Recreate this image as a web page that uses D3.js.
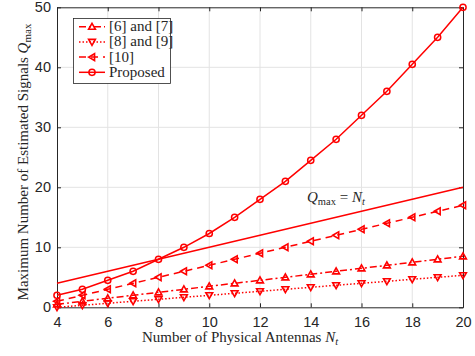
<!DOCTYPE html>
<html>
<head>
<meta charset="utf-8">
<script src="https://cdn.jsdelivr.net/npm/d3@7"></script>
<style>
body { margin:0; background:#fff; }
svg text { fill:#262626; }
.tick text { font-family:"Liberation Sans", Arial, sans-serif; font-size:14.5px; }
.lab { font-family:"Liberation Serif", "DejaVu Serif", serif; font-size:15px; }
</style>
</head>
<body>
<svg width="475" height="356"></svg>
<script>
// values
var nt = [4,5,6,7,8,9,10,11,12,13,14,15,16,17,18,19,20];
var ref67 = [0.5,1,1.5,2,2.5,3,3.5,4,4.5,5,5.5,6,6.5,7,7.5,8,8.5];
var ref89 = [0,0.33,0.67,1,1.33,1.67,2,2.33,2.67,3,3.33,3.67,4,4.33,4.67,5,5.33];
var ref10 = [1,2,3,4,5,6,7,8,9,10,11,12,13,14,15,16,17];
var proposed = [2,3,4.5,6,8,10,12.3,15,18,21,24.5,28,32,36,40.5,45,50];
var bound = [4,20]; // Qmax = Nt, at Nt=4 and Nt=20
var xTicks = [4,6,8,10,12,14,16,18,20];
var yTicks = [0,10,20,30,40,50];

var svg = d3.select("svg");
var L=57, R=463, T=7.3, B=307.3;
var x = d3.scaleLinear().domain([4,20]).range([L,R]);
var y = d3.scaleLinear().domain([0,50]).range([B,T]);
var red = "#ff0000";

// grid
svg.append("g").selectAll("line").data(xTicks.slice(1,-1)).enter().append("line")
  .attr("x1",d=>x(d)).attr("x2",d=>x(d)).attr("y1",T).attr("y2",B)
  .attr("stroke","#e3e3e3").attr("stroke-width",1);
svg.append("g").selectAll("line").data(yTicks.slice(1,-1)).enter().append("line")
  .attr("y1",d=>y(d)).attr("y2",d=>y(d)).attr("x1",L).attr("x2",R)
  .attr("stroke","#e3e3e3").attr("stroke-width",1);

// axes
function styleAx(g){ g.select(".domain").attr("stroke","#262626"); g.selectAll(".tick line").attr("stroke","#262626"); }
svg.append("g").attr("transform","translate(0,"+B+")")
  .call(d3.axisBottom(x).tickValues(xTicks).tickSizeInner(-4).tickSizeOuter(0).tickPadding(9))
  .call(styleAx).selectAll("text").attr("fill","#262626");
svg.append("g").attr("transform","translate(0,"+T+")")
  .call(d3.axisTop(x).tickValues(xTicks).tickSizeInner(-4).tickSizeOuter(0).tickFormat(""))
  .call(styleAx);
svg.append("g").attr("transform","translate("+L+",0)")
  .call(d3.axisLeft(y).tickValues(yTicks).tickSizeInner(-4).tickSizeOuter(0).tickPadding(6))
  .call(styleAx).selectAll("text").attr("fill","#262626");
svg.append("g").attr("transform","translate("+R+",0)")
  .call(d3.axisRight(y).tickValues(yTicks).tickSizeInner(-4).tickSizeOuter(0).tickFormat(""))
  .call(styleAx);

// series
var series = [
  {name:"[6] and [7]", vals:ref67, dash:"7,3,2,3", sym:"up"},
  {name:"[8] and [9]", vals:ref89, dash:"1.5,2", sym:"down"},
  {name:"[10]", vals:ref10, dash:"7,5", sym:"left"},
  {name:"Proposed", vals:proposed, dash:null, sym:"circle"}
];

function marker(g, sym, cx, cy){
  if(sym=="circle"){
    g.append("circle").attr("cx",cx).attr("cy",cy).attr("r",3.1)
      .attr("fill","none").attr("stroke",red).attr("stroke-width",1.5);
    return;
  }
  var s=3.4, pts;
  if(sym=="up") pts=[[0,-s],[s,s*0.75],[-s,s*0.75]];
  else if(sym=="down") pts=[[0,s],[s,-s*0.75],[-s,-s*0.75]];
  else pts=[[-s,0],[s*0.75,-s],[s*0.75,s]];
  g.append("polygon").attr("points",pts.map(p=>(cx+p[0])+","+(cy+p[1])).join(" "))
    .attr("fill","none").attr("stroke",red).attr("stroke-width",1.6).attr("stroke-linejoin","miter");
}

var line = d3.line().x((d,i)=>x(nt[i])).y(d=>y(d));
series.forEach(function(s){
  svg.append("path").attr("d",line(s.vals)).attr("fill","none").attr("stroke",red)
    .attr("stroke-width",1.5).attr("stroke-dasharray",s.dash);
  var g=svg.append("g");
  s.vals.forEach(function(v,i){ marker(g,s.sym,x(nt[i]),y(v)); });
});

// Qmax = Nt
svg.append("line").attr("x1",x(4)).attr("y1",y(bound[0])).attr("x2",x(20)).attr("y2",y(bound[1]))
  .attr("stroke",red).attr("stroke-width",1.5);
var q = svg.append("text").attr("class","lab").attr("x",307).attr("y",202);
q.append("tspan").attr("font-style","italic").text("Q");
q.append("tspan").attr("font-size","10.5px").attr("dy",3).text("max");
q.append("tspan").attr("dy",-3).text(" = ");
q.append("tspan").attr("font-style","italic").text("N");
q.append("tspan").attr("font-style","italic").attr("font-size","10.5px").attr("dy",3).text("t");

// legend
var lg = svg.append("g");
lg.append("rect").attr("x",73.5).attr("y",18.5).attr("width",97).attr("height",65)
  .attr("fill","#fff").attr("stroke","#262626").attr("stroke-width",0.8);
series.forEach(function(s,i){
  var yy = 26.7 + i*15.2;
  lg.append("line").attr("x1",79).attr("x2",105).attr("y1",yy).attr("y2",yy)
    .attr("stroke",red).attr("stroke-width",1.5).attr("stroke-dasharray",s.dash);
  marker(lg,s.sym,92,yy);
  lg.append("text").attr("class","lab").attr("font-size","13.5px").attr("x",109).attr("y",yy+4.5).text(s.name);
});

// axis labels
var xl = svg.append("text").attr("class","lab").attr("x",240).attr("y",342).attr("text-anchor","middle");
xl.append("tspan").text("Number of Physical Antennas ");
xl.append("tspan").attr("font-style","italic").text("N");
xl.append("tspan").attr("font-style","italic").attr("font-size","10.5px").attr("dy",3).text("t");

var yl = svg.append("text").attr("class","lab").attr("font-size","15.9px").attr("text-anchor","middle")
  .attr("transform","translate(28,162) rotate(-90)");
yl.append("tspan").text("Maximum Number of Estimated Signals ");
yl.append("tspan").attr("font-style","italic").text("Q");
yl.append("tspan").attr("font-size","11px").attr("dy",3).text("max");
</script>
</body>
</html>
